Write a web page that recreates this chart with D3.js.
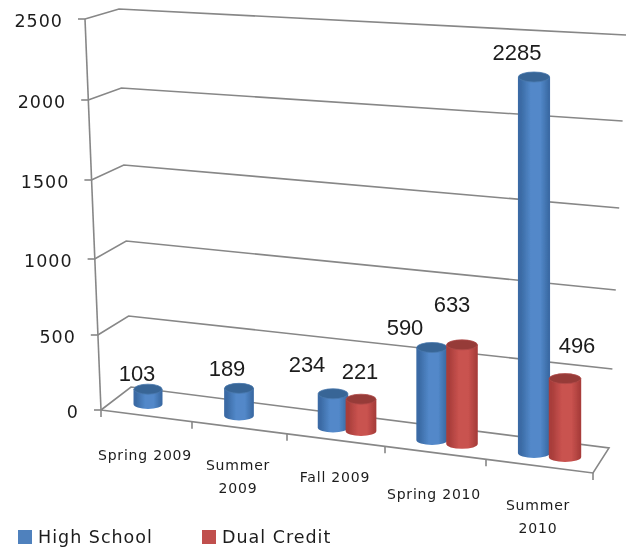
<!DOCTYPE html>
<html><head><meta charset="utf-8">
<style>html,body{margin:0;background:#fff;overflow:hidden}svg{display:block}</style>
<script src="https://cdnjs.cloudflare.com/ajax/libs/d3/7.8.5/d3.min.js"></script>
</head><body><svg id="c" width="628" height="548"></svg>
<script>
const categories=[["Spring 2009"],["Summer","2009"],["Fall 2009"],["Spring 2010"],["Summer","2010"]];
const seriesNames=["High School","Dual Credit"];
const highSchool=[103,189,234,590,2285];
const dualCredit=[null,null,221,633,496];
const valueTicks=[0,500,1000,1500,2000,2500];

const W=628,H=548;
const svg=d3.select("#c");
const colors=[{edge:"#3b6ba5",mid:"#5288c9",top:"#376596",rim:"#4a78ad"},{edge:"#a93e3b",mid:"#c9524f",top:"#963b39",rim:"#b04a47"}];

// perspective: one piecewise scale per vertical edge of the box
const yFront=d3.scaleLinear().domain(valueTicks).range([410,335,259,180,100,19]);
const xFront=d3.scaleLinear().domain([0,2500]).range([101,85]);
const yBackL=d3.scaleLinear().domain(valueTicks).range([387,316,241,165,88,9]);
const xBackL=d3.scaleLinear().domain([0,2500]).range([131,119]);
const yBackR=d3.scaleLinear().domain(valueTicks).range([448,369,290,208,121,35]);
const xBackR=d3.scaleLinear().domain([0,2500]).range([609,626]);
const height=d3.scaleLinear().domain([0,250,500,633,2285]).range([0,36,79,99,376]);
const xCat=[
 d3.scaleLinear().domain([0,1,2,3,4]).range([148,239,333,432,534]),
 d3.scaleLinear().domain([0,1,2,3,4]).range([176,267,361,462,565])];
const baseAt=d3.scaleLinear().domain([148,534]).range([404,453]);
const rxAt=d3.scaleLinear().domain([148,565]).range([14.5,16.2]);
const xEdge=d3.scaleLinear().domain([0,1,2,3,4,5]).range([101,192,287,385,486,593]);
const yEdge=d3.scaleLinear().domain([101,593]).range([410,473]);
const RY=5;

const defs=svg.append("defs");
defs.append("filter").attr("id","soft").attr("x","-5%").attr("y","-5%").attr("width","110%").attr("height","110%")
  .append("feGaussianBlur").attr("stdDeviation",0.6);
defs.append("filter").attr("id","softT").attr("x","-5%").attr("y","-5%").attr("width","110%").attr("height","110%")
  .append("feGaussianBlur").attr("stdDeviation",0.35);
colors.forEach((c,i)=>{
  const g=defs.append("linearGradient").attr("id","g"+i);
  [[0,c.edge],[.1,c.edge],[.4,c.mid],[.7,c.mid],[.95,c.edge],[1,c.edge]].forEach(s=>g.append("stop").attr("offset",s[0]).attr("stop-color",s[1]));
});

const chart=svg.append("g").attr("filter","url(#soft)");
const line="#878787";
const grid=chart.append("g").attr("fill","none").attr("stroke",line).attr("stroke-width",1.6);

// gridlines and value ticks
grid.selectAll("path.grid").data(valueTicks.slice(1)).join("path").attr("class","grid")
  .attr("d",v=>d3.line()([[xFront(v),yFront(v)],[xBackL(v),yBackL(v)],[xBackR(v),yBackR(v)]]));
grid.selectAll("path.vt").data(valueTicks).join("path").attr("class","vt")
  .attr("d",v=>d3.line()([[xFront(v)-7,yFront(v)],[xFront(v),yFront(v)]]));
// value axis
grid.append("path").attr("d",d3.line()([[xFront(0),yFront(0)],[xFront(2500),yFront(2500)]]));
// floor
grid.append("path").attr("d",d3.line()([[xFront(0),yFront(0)],[xBackL(0),yBackL(0)],[xBackR(0),yBackR(0)],[xEdge(5),yEdge(xEdge(5))],[xFront(0),yFront(0)]]));
// category ticks
grid.selectAll("path.ct").data(d3.range(0,6)).join("path").attr("class","ct")
  .attr("d",i=>{const x=xEdge(i),y=yEdge(x);return d3.line()([[x,y],[x,y+7]]);});

// bars
const bars=[];
categories.forEach((c,i)=>{[highSchool,dualCredit].forEach((s,k)=>{
  if(s[i]!=null)bars.push({cat:i,ser:k,v:s[i]});
});});
const barG=chart.append("g").selectAll("g").data(bars).join("g");
const geo=d=>{const x=xCat[d.ser](d.cat),b=baseAt(x),t=b-height(d.v),r=rxAt(x);return{x,b,t,r};};
barG.append("path").attr("fill",d=>`url(#g${d.ser})`).attr("d",d=>{
  const g=geo(d);
  return `M${g.x-g.r},${g.t}L${g.x-g.r},${g.b}A${g.r},${RY} 0 0 0 ${g.x+g.r},${g.b}L${g.x+g.r},${g.t}Z`;
});
barG.append("ellipse").attr("fill",d=>colors[d.ser].top).attr("stroke",d=>colors[d.ser].rim).attr("stroke-width",.8)
  .attr("cx",d=>geo(d).x).attr("cy",d=>geo(d).t).attr("rx",d=>geo(d).r-.4).attr("ry",RY);

// data labels, placed by hand in the original
const labelNudge={"0-0":[-11,-8],"1-0":[-12,-12],"2-0":[-26,-22],"2-1":[-1,-20],"3-0":[-27,-13],"3-1":[-10,-33],"4-0":[-17,-17],"4-1":[12,-26]};
const txt=svg.append("g").attr("fill","#1c1c1c").attr("filter","url(#softT)");
txt.selectAll("text.dl").data(bars).join("text").attr("class","dl")
  .attr("font-family","'Liberation Sans'").attr("font-size",22).attr("text-anchor","middle")
  .attr("x",d=>geo(d).x+labelNudge[d.cat+"-"+d.ser][0])
  .attr("y",d=>geo(d).t+labelNudge[d.cat+"-"+d.ser][1])
  .text(d=>d.v);

// value tick labels
txt.selectAll("text.vl").data(valueTicks).join("text").attr("class","vl")
  .attr("font-family","'DejaVu Sans'").attr("font-size",17.5).attr("letter-spacing",1).attr("text-anchor","end")
  .attr("x",v=>xFront(v)-22).attr("y",v=>yFront(v)+8).text(v=>v);

// category labels
const catPos=[[145,460],[238,470],[335,482],[434,499],[538,510]];
const catX=d3.scaleOrdinal().domain(d3.range(5)).range(catPos);
txt.selectAll("text.cl").data(categories).join("text").attr("class","cl")
  .attr("font-family","'DejaVu Sans'").attr("font-size",14).attr("letter-spacing",.8).attr("text-anchor","middle")
  .each(function(lines,i){
    d3.select(this).selectAll("tspan").data(lines).join("tspan")
      .attr("x",catX(i)[0]).attr("y",(l,j)=>catX(i)[1]+j*23).text(l=>l);
  });

// legend
const legX=d3.scaleOrdinal().domain(seriesNames).range([18,202]);
const leg=svg.append("g").attr("filter","url(#softT)").selectAll("g").data(seriesNames).join("g");
leg.append("rect").attr("x",d=>legX(d)).attr("y",530).attr("width",14).attr("height",14)
  .attr("fill",(d,i)=>["#4f81bd","#c0504d"][i]);
leg.append("text").attr("x",d=>legX(d)+20).attr("y",543).attr("fill","#1c1c1c")
  .attr("font-family","'DejaVu Sans'").attr("font-size",17.5).attr("letter-spacing",1).text(d=>d);
</script></body></html>
